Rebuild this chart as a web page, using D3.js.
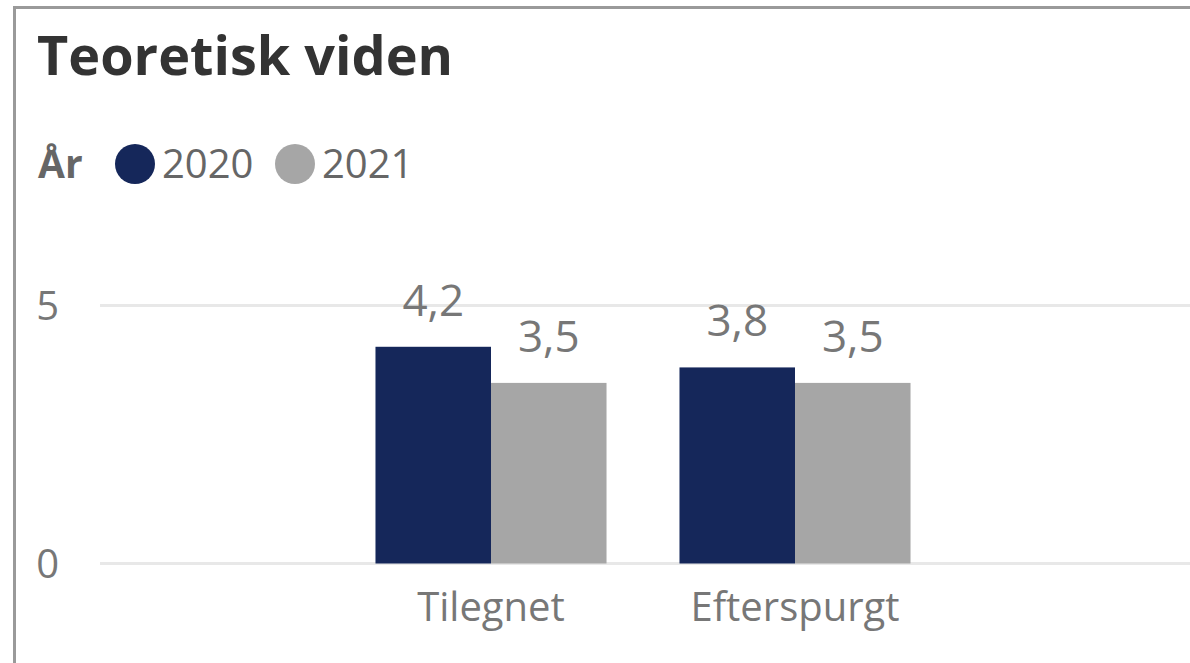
<!DOCTYPE html>
<html>
<head>
<meta charset="utf-8">
<script src="https://cdn.jsdelivr.net/npm/d3@7"></script>
<style>
  body { margin: 0; background: #fff; }
  svg { display: block; font-family: "Segoe UI", "Open Sans", sans-serif; }
</style>
</head>
<body>
<div id="chart"></div>
<script>
const width = 1190;
const height = 663;

// data
const categories = ["Tilegnet", "Efterspurgt"];
const years = ["2020", "2021"];
const values2020 = [4.2, 3.8];
const values2021 = [3.5, 3.5];
const yTicks = [0, 5];
const colors = ["#15275a", "#a6a6a6"];

const seriesValues = [values2020, values2021];
const rows = categories.map((c, i) => ({
    category: c,
    bars: years.map((y, j) => ({ year: y, value: seriesValues[j][i] }))
}));

const svg = d3.select("#chart").append("svg")
    .attr("width", width)
    .attr("height", height);

// frame
svg.append("rect")
    .attr("x", 14.5)
    .attr("y", 7.5)
    .attr("width", width + 20)
    .attr("height", height + 20)
    .style("fill", "#fff")
    .style("stroke", "#9a9a9a")
    .style("stroke-width", 3);

svg.append("text")
    .attr("x", 37)
    .attr("y", 75)
    .style("font-size", "54px")
    .style("font-weight", 700)
    .style("fill", "#333")
    .text("Teoretisk viden");

// legend
const legend = svg.append("g");
legend.append("text")
    .attr("x", 38)
    .attr("y", 178)
    .style("font-size", "39px")
    .style("font-weight", 700)
    .style("fill", "#666")
    .text("År");

const legendX = [135, 295];
years.forEach((y, i) => {
    legend.append("circle")
        .attr("cx", legendX[i])
        .attr("cy", 164)
        .attr("r", 20)
        .style("fill", colors[i]);
    legend.append("text")
        .attr("x", legendX[i] + 27)
        .attr("y", 178)
        .style("font-size", "40px")
        .style("fill", "#666")
        .text(y);
});

// scales
const y = d3.scaleLinear().domain([0, 5]).range([563.5, 305.5]);
const x0 = d3.scaleBand()
    .domain(categories)
    .range([339, 947])
    .paddingInner(0.24)
    .paddingOuter(0.12);
const x1 = d3.scaleBand()
    .domain(years)
    .range([0, x0.bandwidth()]);

// grid + tick labels
svg.selectAll(".grid")
    .data(yTicks)
    .enter()
    .append("line")
    .attr("class", "grid")
    .attr("x1", 100)
    .attr("x2", width)
    .attr("y1", d => y(d))
    .attr("y2", d => y(d))
    .style("stroke", "#e8e8e8")
    .style("stroke-width", 3);

svg.selectAll(".ytick")
    .data(yTicks)
    .enter()
    .append("text")
    .attr("class", "ytick")
    .attr("x", 59)
    .attr("y", d => y(d))
    .attr("dy", "0.36em")
    .attr("text-anchor", "end")
    .style("font-size", "40px")
    .style("fill", "#777")
    .text(d => d);

// bars
const groups = svg.selectAll(".cat")
    .data(rows)
    .enter()
    .append("g")
    .attr("class", "cat")
    .attr("transform", d => "translate(" + x0(d.category) + ",0)");

groups.selectAll("rect")
    .data(d => d.bars)
    .enter()
    .append("rect")
    .attr("x", d => x1(d.year))
    .attr("y", d => y(d.value))
    .attr("width", x1.bandwidth())
    .attr("height", d => y(0) - y(d.value))
    .style("fill", (d, i) => colors[i]);

groups.selectAll(".lbl")
    .data(d => d.bars)
    .enter()
    .append("text")
    .attr("class", "lbl")
    .attr("x", d => x1(d.year) + x1.bandwidth() / 2)
    .attr("y", d => y(d.value) - 31)
    .attr("text-anchor", "middle")
    .style("font-size", "44px")
    .style("fill", "#777")
    .text(d => d3.format(".1f")(d.value).replace(".", ","));

// category labels
svg.selectAll(".xlbl")
    .data(categories)
    .enter()
    .append("text")
    .attr("class", "xlbl")
    .attr("x", d => x0(d) + x0.bandwidth() / 2)
    .attr("y", 621)
    .attr("text-anchor", "middle")
    .style("font-size", "40px")
    .style("fill", "#777")
    .text(d => d);
</script>
</body>
</html>
